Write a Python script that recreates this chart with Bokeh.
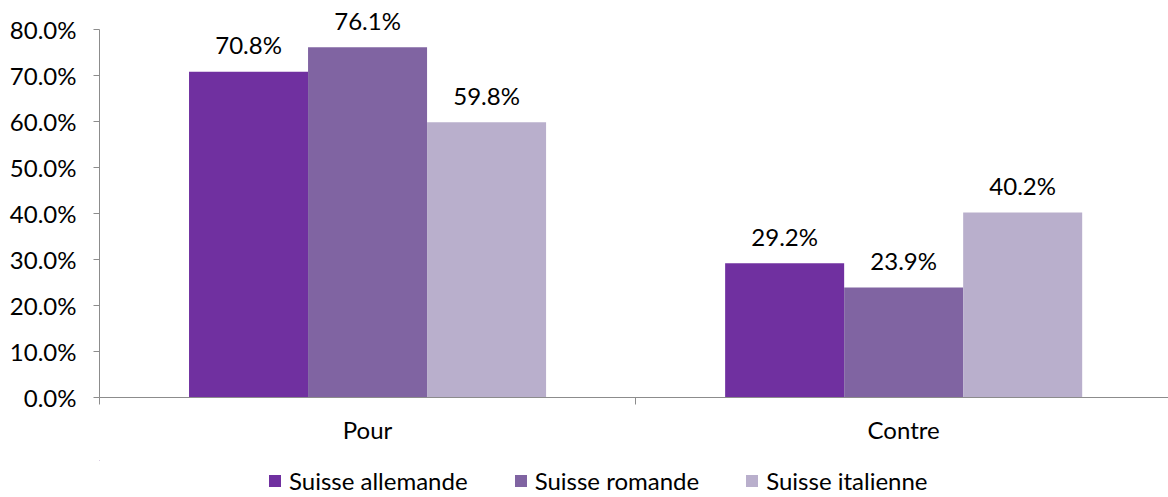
from bokeh.plotting import figure
from bokeh.layouts import column
from bokeh.models import ColumnDataSource, Range1d, FixedTicker, Legend, LegendItem
from bokeh.transform import dodge
from bokeh.core.properties import value
from bokeh.embed import file_html
from bokeh.resources import INLINE

categories = ["Pour", "Contre"]
series = ["Suisse allemande", "Suisse romande", "Suisse italienne"]
allemande = [70.8, 29.2]
romande = [76.1, 23.9]
italienne = [59.8, 40.2]
colors = ["#7030A0", "#8064A2", "#B9AFCC"]
y_ticks = [0, 10, 20, 30, 40, 50, 60, 70, 80]

FONT = "Lato"
FS = "24px"
GRAY = "#8C8C8C"

centers = [i + 0.5 for i in range(len(categories))]
data = {"x": centers}
for name, vals in zip(["a", "r", "i"], [allemande, romande, italienne]):
    data[name] = vals
    data[name + "_lbl"] = [f"{v:.1f}%" for v in vals]
src = ColumnDataSource(data)

p = figure(width=1168, height=460, output_backend="svg", toolbar_location=None,
           x_range=Range1d(0, 1.994), y_range=Range1d(0, 85.4))
p.min_border_left = 99
p.min_border_right = 0
p.min_border_top = 4
p.min_border_bottom = 63
p.outline_line_color = None
p.xgrid.visible = False
p.ygrid.visible = False

bw = 0.222
offsets = [-bw, 0, bw]
for name, off, col in zip(["a", "r", "i"], offsets, colors):
    p.vbar(x=dodge("x", off), top=name, width=bw, source=src,
           fill_color=col, line_color=None)
    p.text(x=dodge("x", off), y=name, text=name + "_lbl", source=src,
           text_align="center", text_baseline="alphabetic", y_offset=-27,
           text_font=value(FONT), text_font_size=FS, text_color="#000000")

# y axis
ya = p.yaxis[0]
ya.bounds = (0, 80)
ya.ticker = FixedTicker(ticks=y_ticks, minor_ticks=[])
ya.major_label_overrides = {t: f"{t:.1f}%" for t in y_ticks}
ya.major_label_text_font = FONT
ya.major_label_text_font_size = FS
ya.major_label_text_color = "#000000"
ya.axis_line_color = GRAY
ya.major_tick_line_color = GRAY
ya.major_tick_in = 0
ya.major_tick_out = 6
ya.major_label_standoff = 17

# x axis
xa = p.xaxis[0]
xa.ticker = FixedTicker(ticks=centers, minor_ticks=[0, 1, 2])
xa.major_label_overrides = {c: lab for c, lab in zip(centers, categories)}
xa.major_label_text_font = FONT
xa.major_label_text_font_size = FS
xa.major_label_text_color = "#000000"
xa.axis_line_color = GRAY
xa.major_tick_line_color = None
xa.major_tick_in = 0
xa.major_tick_out = 0
xa.minor_tick_line_color = GRAY
xa.minor_tick_in = 0
xa.minor_tick_out = 7
xa.major_label_standoff = 10

# legend strip (its bars lie far outside its visible ranges; only the legend shows)
lg = figure(width=1168, height=37, output_backend="svg", toolbar_location=None,
            x_range=Range1d(100, 101), y_range=Range1d(-1000, -999),
            x_axis_location=None, y_axis_location=None, min_border=0)
lg.outline_line_color = None
lg.xgrid.visible = False
lg.ygrid.visible = False
items = []
for s, name, col in zip(series, ["a", "r", "i"], colors):
    r = lg.vbar(x="x", top=name, width=bw, source=src, fill_color=col, line_color=None)
    items.append(LegendItem(label=s, renderers=[r]))
legend = Legend(items=items, orientation="horizontal", location=(168, 2))
legend.label_text_font = FONT
legend.label_text_font_size = FS
legend.label_text_color = "#000000"
legend.glyph_width = 15
legend.glyph_height = 15
legend.label_standoff = 7
legend.spacing = 45
legend.padding = 0
legend.margin = 0
legend.border_line_color = None
legend.background_fill_alpha = 0
legend.label_height = 22
lg.add_layout(legend, "center")

layout = column(p, lg, spacing=0)
open("out.html", "w").write(file_html(layout, INLINE))
